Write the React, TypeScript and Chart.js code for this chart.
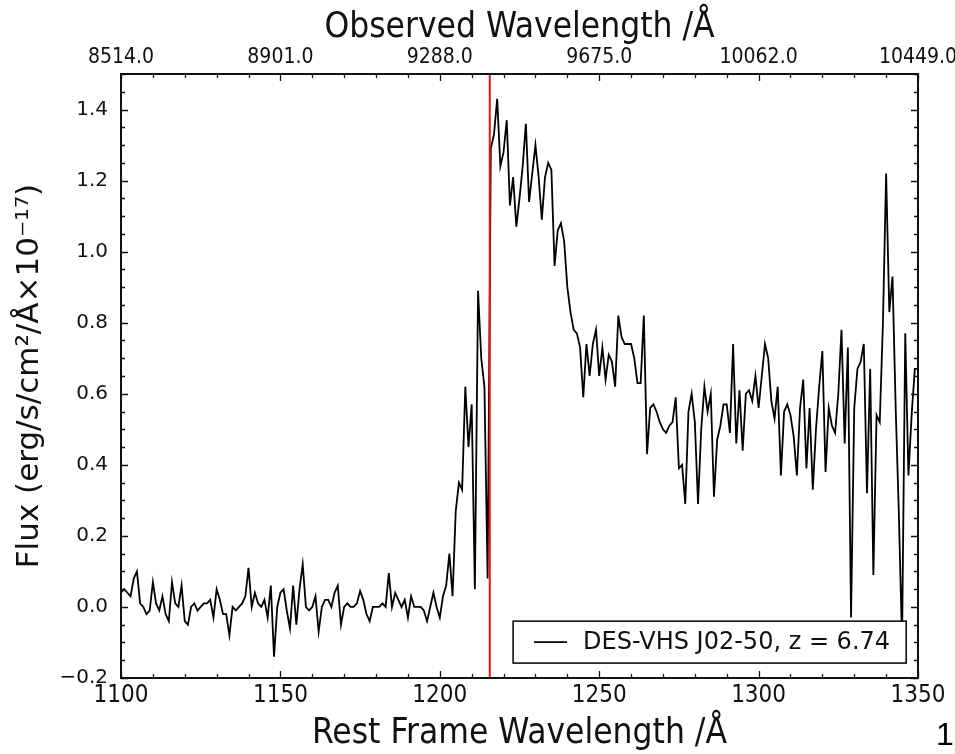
import React, { useEffect, useRef } from 'react';
import { Chart, registerables } from 'chart.js';

Chart.register(...registerables);

// ---- data ----
const WAVE_START = 1100; // rest-frame Å, first sample
const WAVE_STEP = 1; // Å per sample
const FLUX = [
  0.04, 0.05, 0.04, 0.03, 0.08, 0.10, 0.01, 0.00, -0.02, -0.01,
  0.07, 0.01, -0.01, 0.03, -0.02, -0.04, 0.07, 0.01, 0.00, 0.06,
  -0.04, -0.05, 0.00, 0.01, -0.01, 0.00, 0.01, 0.01, 0.02, -0.03,
  0.05, 0.02, -0.02, -0.02, -0.08, 0.00, -0.01, 0.00, 0.01, 0.03,
  0.11, 0.00, 0.04, 0.01, 0.00, 0.02, -0.03, 0.06, -0.14, 0.00,
  0.04, 0.05, -0.01, -0.06, 0.06, -0.05, 0.05, 0.12, 0.00, -0.01,
  0.00, 0.03, -0.07, 0.00, 0.02, 0.02, 0.00, 0.04, 0.06, -0.05,
  0.00, 0.01, 0.00, 0.00, 0.01, 0.045, 0.02, -0.02, -0.04, 0.00,
  0.00, 0.00, 0.01, 0.00, 0.095, 0.00, 0.04, 0.02, 0.00, 0.02,
  -0.03, 0.03, 0.00, 0.00, 0.00, -0.01, -0.04, 0.00, 0.04, 0.00,
  -0.03, 0.03, 0.06, 0.15, 0.03, 0.27, 0.35, 0.33, 0.62, 0.45,
  0.57, 0.05, 0.89, 0.70, 0.62, 0.08, 1.29, 1.33, 1.43, 1.24,
  1.28, 1.37, 1.13, 1.21, 1.07, 1.15, 1.24, 1.36, 1.14, 1.22,
  1.30, 1.21, 1.09, 1.21, 1.25, 1.23, 0.96, 1.06, 1.08, 1.03,
  0.90, 0.83, 0.78, 0.77, 0.73, 0.59, 0.74, 0.65, 0.74, 0.78,
  0.65, 0.73, 0.64, 0.71, 0.69, 0.62, 0.82, 0.76, 0.74, 0.74,
  0.74, 0.70, 0.63, 0.63, 0.82, 0.43, 0.56, 0.57, 0.55, 0.52,
  0.50, 0.49, 0.51, 0.52, 0.59, 0.39, 0.40, 0.29, 0.55, 0.60,
  0.52, 0.29, 0.50, 0.62, 0.55, 0.60, 0.31, 0.47, 0.51, 0.57,
  0.57, 0.49, 0.74, 0.46, 0.61, 0.44, 0.60, 0.61, 0.58, 0.65,
  0.56, 0.65, 0.74, 0.70, 0.58, 0.53, 0.62, 0.37, 0.55, 0.57,
  0.54, 0.48, 0.37, 0.56, 0.64, 0.39, 0.56, 0.33, 0.50, 0.62,
  0.72, 0.38, 0.56, 0.51, 0.49, 0.60, 0.78, 0.46, 0.73, -0.03,
  0.56, 0.67, 0.69, 0.74, 0.32, 0.67, 0.09, 0.54, 0.52, 0.80,
  1.22, 0.83, 0.93, 0.56, 0.26, -0.10, 0.77, 0.37, 0.54, 0.67,
  0.67,
];
const REST_TICKS = [1100, 1150, 1200, 1250, 1300, 1350];
const FLUX_TICKS = [-0.2, 0, 0.2, 0.4, 0.6, 0.8, 1.0, 1.2, 1.4];
const X_RANGE = [1100, 1350];
const Y_RANGE = [-0.2, 1.5];
const X_MINOR_STEP = 10;
const Y_MINOR_STEP = 0.05;
const REDSHIFT = 6.74;
const LYA_REST = 1215.67;
const SERIES_LABEL = 'DES-VHS J02-50, z = 6.74';
const X_TITLE = 'Rest Frame Wavelength /Å';
const X2_TITLE = 'Observed Wavelength /Å';
const Y_TITLE = 'Flux (erg/s/cm²/Å×10⁻¹⁷)';
const PAGE_NUMBER = '1';

const NARROW = "'Liberation Sans Narrow', 'DejaVu Sans Condensed', 'Liberation Sans', sans-serif";
const REGULAR = "'DejaVu Sans', 'Liberation Sans', sans-serif";
const INK = '#111111';

const decoPlugin = {
  id: 'deco',
  afterDatasetsDraw(chart: any) {
    const { ctx, chartArea: a, scales } = chart;
    const xs = scales.x;
    const ys = scales.y;
    ctx.save();
    ctx.strokeStyle = INK;
    ctx.lineWidth = 1.3;
    ctx.beginPath();
    const nx = Math.round((X_RANGE[1] - X_RANGE[0]) / X_MINOR_STEP);
    for (let i = 0; i <= nx; i++) {
      const v = X_RANGE[0] + i * X_MINOR_STEP;
      const px = Math.round(xs.getPixelForValue(v)) + 0.5;
      const major = REST_TICKS.includes(v);
      const L = major ? 7 : 4;
      ctx.moveTo(px, a.bottom);
      ctx.lineTo(px, a.bottom - L);
      ctx.moveTo(px, a.top);
      ctx.lineTo(px, a.top + L);
    }
    const ny = Math.round((Y_RANGE[1] - Y_RANGE[0]) / Y_MINOR_STEP);
    for (let i = 0; i <= ny; i++) {
      const v = Y_RANGE[0] + i * Y_MINOR_STEP;
      const py = Math.round(ys.getPixelForValue(v)) + 0.5;
      const major = FLUX_TICKS.some((t) => Math.abs(t - v) < 1e-6);
      const L = major ? 7 : 4;
      ctx.moveTo(a.left, py);
      ctx.lineTo(a.left + L, py);
      ctx.moveTo(a.right, py);
      ctx.lineTo(a.right - L, py);
    }
    ctx.stroke();
    ctx.lineWidth = 2;
    ctx.strokeRect(a.left, a.top, a.right - a.left, a.bottom - a.top);
    ctx.restore();
  },
  afterDraw(chart: any) {
    const { ctx, scales } = chart;
    const xs = scales.x;
    const ys = scales.y;
    // legend box anchored in data space near the lower right
    const left = xs.getPixelForValue(1223);
    const right = xs.getPixelForValue(1346.3);
    const top = ys.getPixelForValue(-0.04);
    const bottom = ys.getPixelForValue(-0.158);
    ctx.save();
    ctx.fillStyle = '#ffffff';
    ctx.fillRect(left, top, right - left, bottom - top);
    ctx.strokeStyle = INK;
    ctx.lineWidth = 1.6;
    ctx.strokeRect(left, top, right - left, bottom - top);
    const cy = (top + bottom) / 2;
    ctx.lineWidth = 1.8;
    ctx.strokeStyle = '#000';
    ctx.beginPath();
    ctx.moveTo(left + 21, cy);
    ctx.lineTo(left + 54, cy);
    ctx.stroke();
    ctx.fillStyle = INK;
    ctx.font = `24px ${REGULAR}`;
    ctx.textBaseline = 'middle';
    ctx.textAlign = 'left';
    ctx.fillText(SERIES_LABEL, left + 70, cy + 1);
    ctx.restore();
  },
};

export default function App() {
  const canvasRef = useRef<HTMLCanvasElement | null>(null);

  useEffect(() => {
    const canvas = canvasRef.current;
    if (!canvas) return;
    const points = FLUX.map((f, i) => ({ x: WAVE_START + i * WAVE_STEP, y: f }));
    const lya = [
      { x: LYA_REST, y: Y_RANGE[0] },
      { x: LYA_REST, y: Y_RANGE[1] },
    ];
    const chart = new Chart(canvas, {
      type: 'line',
      data: {
        datasets: [
          {
            label: SERIES_LABEL,
            data: points,
            borderColor: '#000000',
            borderWidth: 1.8,
            pointRadius: 0,
            tension: 0,
            order: 1,
          },
          {
            label: 'Lyα',
            data: lya,
            borderColor: '#f01010',
            borderWidth: 2,
            pointRadius: 0,
            order: 0,
          },
        ],
      },
      options: {
        responsive: false,
        animation: false,
        events: [],
        layout: { padding: { left: 0, right: 37, top: 0, bottom: 0 } },
        plugins: { legend: { display: false }, tooltip: { enabled: false } },
        scales: {
          x: {
            type: 'linear',
            position: 'bottom',
            min: X_RANGE[0],
            max: X_RANGE[1],
            afterBuildTicks: (s: any) => {
              s.ticks = REST_TICKS.map((v) => ({ value: v }));
            },
            grid: { display: false, drawTicks: false },
            border: { display: false },
            ticks: {
              color: INK,
              font: { family: NARROW, size: 24, lineHeight: 1 },
              padding: 6,
              maxRotation: 0,
              autoSkip: false,
              callback: (v: any) => String(v),
            },
            title: {
              display: true,
              text: X_TITLE,
              color: INK,
              font: { family: NARROW, size: 35, lineHeight: 1 },
              padding: { top: 0, bottom: 3 },
            },
            afterFit: (s: any) => {
              s.height = 76;
              s.paddingLeft = 0;
              s.paddingRight = 0;
            },
          },
          x2: {
            type: 'linear',
            axis: 'x',
            position: 'top',
            min: X_RANGE[0],
            max: X_RANGE[1],
            afterBuildTicks: (s: any) => {
              s.ticks = REST_TICKS.map((v) => ({ value: v }));
            },
            grid: { display: false, drawTicks: false },
            border: { display: false },
            ticks: {
              color: INK,
              font: { family: NARROW, size: 21, lineHeight: 1 },
              padding: 6,
              maxRotation: 0,
              autoSkip: false,
              callback: (v: any) => (Number(v) * (1 + REDSHIFT)).toFixed(1),
            },
            title: {
              display: true,
              text: X2_TITLE,
              color: INK,
              font: { family: NARROW, size: 35, lineHeight: 1 },
              padding: { top: 10, bottom: 0 },
            },
            afterFit: (s: any) => {
              s.height = 74;
              s.paddingLeft = 0;
              s.paddingRight = 0;
            },
          },
          y: {
            type: 'linear',
            position: 'left',
            min: Y_RANGE[0],
            max: Y_RANGE[1],
            afterBuildTicks: (s: any) => {
              s.ticks = FLUX_TICKS.map((v) => ({ value: v }));
            },
            grid: { display: false, drawTicks: false },
            border: { display: false },
            ticks: {
              color: INK,
              font: { family: REGULAR, size: 20, lineHeight: 1 },
              padding: 13,
              autoSkip: false,
              callback: (v: any) => Number(v).toFixed(1).replace('-', '\u2212'),
            },
            title: {
              display: true,
              text: Y_TITLE,
              color: INK,
              font: { family: REGULAR, size: 31, lineHeight: 1 },
              padding: { top: 14, bottom: 0 },
            },
            afterFit: (s: any) => {
              s.width = 121;
              s.paddingTop = 0;
              s.paddingBottom = 0;
            },
          },
        },
      },
      plugins: [decoPlugin],
    } as any);
    return () => chart.destroy();
  }, []);

  return (
    <div style={{ position: 'fixed', left: 0, top: 0, width: 955, height: 754, background: '#fff' }}>
      <canvas ref={canvasRef} width={955} height={754} style={{ display: 'block' }} />
      <span
        style={{
          position: 'absolute',
          left: 936,
          top: 716,
          fontFamily: "'Liberation Sans', Arial, sans-serif",
          fontSize: 32,
          lineHeight: '36px',
          color: '#000',
        }}
      >
        {PAGE_NUMBER}
      </span>
    </div>
  );
}
